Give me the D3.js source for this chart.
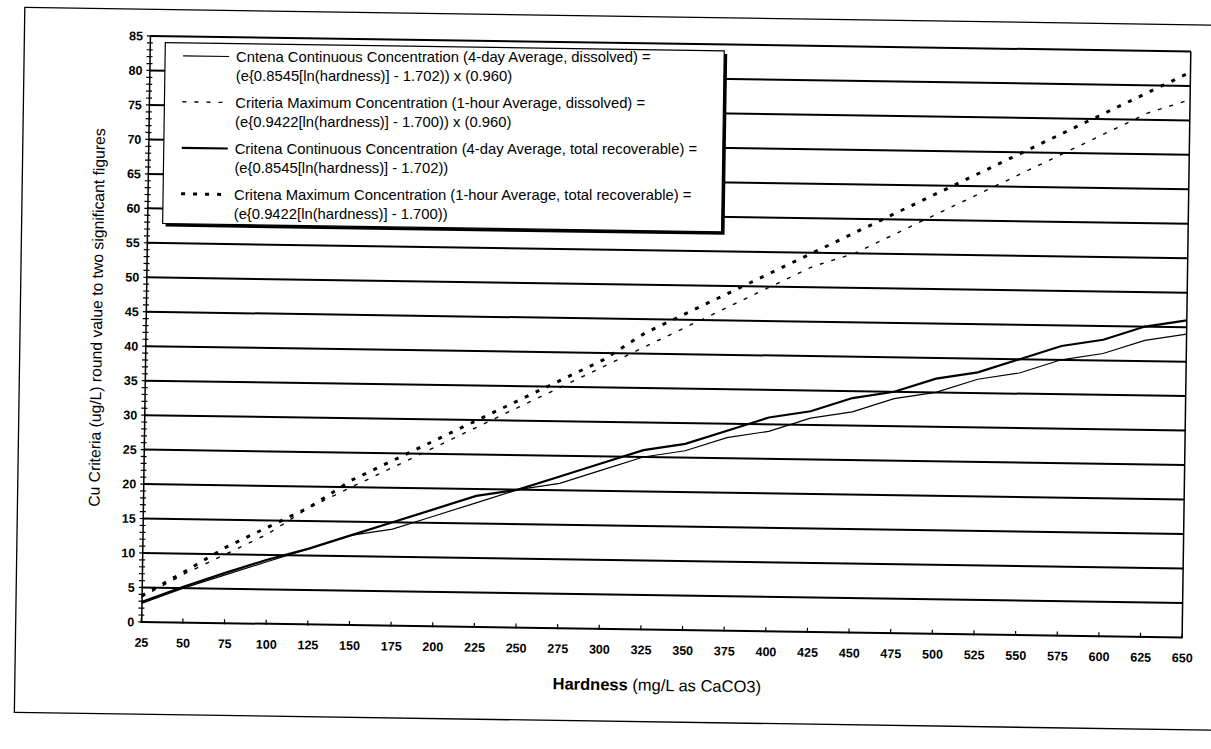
<!DOCTYPE html>
<html><head><meta charset="utf-8">
<script src="https://cdn.jsdelivr.net/npm/d3@7"></script>
<style>html,body{margin:0;padding:0;background:#fff}svg{display:block}</style>
</head><body>
<svg id="chart" width="1211" height="749"></svg>
<script>
// ---- data ----
const hardness = [25,50,75,100,125,150,175,200,225,250,275,300,325,350,375,400,425,450,475,500,525,550,575,600,625,650];
const cccDissolved = [2.7,5.0,7.0,9.0,11,13,14,16,18,20,21,23,25,26,28,29,31,32,34,35,37,38,40,41,43,44];
const cmcDissolved = [3.6,7.0,10,13,17,20,23,26,29,32,35,38,41,44,47,50,53,55,58,61,64,67,70,73,76,78];
const cccTotal = [2.9,5.2,7.3,9.3,11,13,15,17,19,20,22,24,26,27,29,31,32,34,35,37,38,40,42,43,45,46];
const cmcTotal = [3.8,7.3,11,14,17,21,24,27,30,33,36,39,43,46,49,52,55,58,61,64,67,70,73,76,79,82];
const xTickValues = [25,50,75,100,125,150,175,200,225,250,275,300,325,350,375,400,425,450,475,500,525,550,575,600,625,650];
const yTickValues = [0,5,10,15,20,25,30,35,40,45,50,55,60,65,70,75,80,85];
const legendLines = [
  ["Cntena Continuous Concentration (4-day Average, dissolved) =", "(e{0.8545[ln(hardness)] - 1.702)) x (0.960)"],
  ["Criteria Maximum Concentration (1-hour Average, dissolved) =", "(e{0.9422[ln(hardness)] - 1.700)) x (0.960)"],
  ["Critena Continuous Concentration (4-day Average, total recoverable) =", "(e{0.8545[ln(hardness)] - 1.702))"],
  ["Critena Maximum Concentration (1-hour Average, total recoverable) =", "(e{0.9422[ln(hardness)] - 1.700))"]
];
const xTitleBold = "Hardness";
const xTitleRest = " (mg/L as CaCO3)";
const yTitle = "Cu Criteria (ug/L) round value to two significant figures";

// ---- layout ----
const X0 = 145.5, X1 = 1186.5, YTOP = 43.7, YBOT = 629.7;
const ANG = 0.85, CX = 666, CY = 337;
const FONT = "'Liberation Sans', Arial, sans-serif";
const svg = d3.select("#chart");
const root = svg.append("g").attr("transform", `rotate(${ANG},${CX},${CY})`);
const flat = svg.append("g");
function R(px, py){
  const a = ANG*Math.PI/180, dx = px-CX, dy = py-CY;
  return [CX + dx*Math.cos(a) - dy*Math.sin(a), CY + dx*Math.sin(a) + dy*Math.cos(a)];
}

const x = d3.scaleLinear().domain([25,650]).range([X0, X1]);
const y = d3.scaleLinear().domain([0,85]).range([YBOT, YTOP]);

// outer frame
root.append("rect").attr("x",20).attr("y",17).attr("width",1240).attr("height",705)
  .attr("fill","none").attr("stroke","#000").attr("stroke-width",1.3);

// gridlines
root.append("g").selectAll("line").data(yTickValues).join("line")
  .attr("x1",X0).attr("x2",X1).attr("y1",d=>y(d)).attr("y2",d=>y(d))
  .attr("stroke","#000").attr("stroke-width",2);

// right border of plot
root.append("line").attr("x1",X1).attr("x2",X1).attr("y1",y(85)).attr("y2",y(0))
  .attr("stroke","#000").attr("stroke-width",1.5);

// y axis
const yAxis = d3.axisLeft(y).tickValues(yTickValues).tickSize(0).tickPadding(7);
const gy = root.append("g").attr("transform",`translate(${X0},0)`).call(yAxis);
gy.select(".domain").attr("stroke","#000").attr("stroke-width",1.5);
gy.selectAll("text").attr("font-family",FONT).attr("font-size",12.5).attr("font-weight","bold").attr("fill","#000");
// minor ticks (every unit) crossing the axis
root.append("g").selectAll("line").data(d3.range(0,86,1)).join("line")
  .attr("x1",X0-3).attr("x2",X0+3).attr("y1",d=>y(d)).attr("y2",d=>y(d))
  .attr("stroke","#000").attr("stroke-width",1.2);

// x axis
const xAxis = d3.axisBottom(x).tickValues(xTickValues).tickSize(0).tickPadding(16);
const gx = root.append("g").attr("transform",`translate(0,${YBOT})`).call(xAxis);
gx.select(".domain").remove();
gx.selectAll("text").attr("font-family",FONT).attr("font-size",12.5).attr("font-weight","bold").attr("fill","#000");
root.append("g").selectAll("line").data(xTickValues).join("line")
  .attr("x1",d=>x(d)).attr("x2",d=>x(d)).attr("y1",YBOT-4).attr("y2",YBOT+1)
  .attr("stroke","#000").attr("stroke-width",1.2);

// series
const series = [
  {vals: cccDissolved, w: 1.2, dash: null},
  {vals: cmcDissolved, w: 1.4, dash: "4,8"},
  {vals: cccTotal, w: 2.2, dash: null},
  {vals: cmcTotal, w: 3, dash: "4,8"}
];
const line = d3.line().x(d=>x(d[0])).y(d=>y(d[1]));
series.forEach(s=>{
  root.append("path").datum(hardness.map((h,i)=>[h,s.vals[i]]))
    .attr("d",line).attr("fill","none").attr("stroke","#000")
    .attr("stroke-width",s.w).attr("stroke-dasharray",s.dash);
});

// legend
const LX = 161, LY = 50, LW = 559, LH = 181;
root.append("rect").attr("x",LX+3).attr("y",LY+3).attr("width",LW).attr("height",LH).attr("fill","#000");
root.append("rect").attr("x",LX).attr("y",LY).attr("width",LW).attr("height",LH)
  .attr("fill","#fff").attr("stroke","#000").attr("stroke-width",1.2);
const leg = root.append("g").selectAll("g").data(legendLines).join("g")
  .attr("transform",(d,i)=>`translate(${LX},${LY+13+i*46})`);
leg.append("line").attr("x1",18).attr("x2",64).attr("y1",0).attr("y2",0)
  .attr("stroke","#000")
  .attr("stroke-width",(d,i)=>series[i].w)
  .attr("stroke-dasharray",(d,i)=>series[i].dash);
// legend texts: placed at rotated anchor points, kept upright
legendLines.forEach((pair,i)=>{
  pair.forEach((t,j)=>{
    const p = R(LX+71, LY+13+i*46+5+j*19);
    flat.append("text").attr("x",p[0]).attr("y",p[1]).text(t)
      .attr("font-family",FONT).attr("font-size",14.8).attr("fill","#000");
  });
});

// axis titles
const xt = root.append("text").attr("x",662).attr("y",691).attr("text-anchor","middle")
  .attr("font-family",FONT).attr("font-size",16.5).attr("fill","#000");
xt.append("tspan").attr("font-weight","bold").text(xTitleBold);
xt.append("tspan").text(xTitleRest);
root.append("text").attr("transform","translate(102,326) rotate(-90)").attr("text-anchor","middle")
  .attr("font-family",FONT).attr("font-size",15.7).attr("fill","#000").text(yTitle);
</script>
</body></html>
